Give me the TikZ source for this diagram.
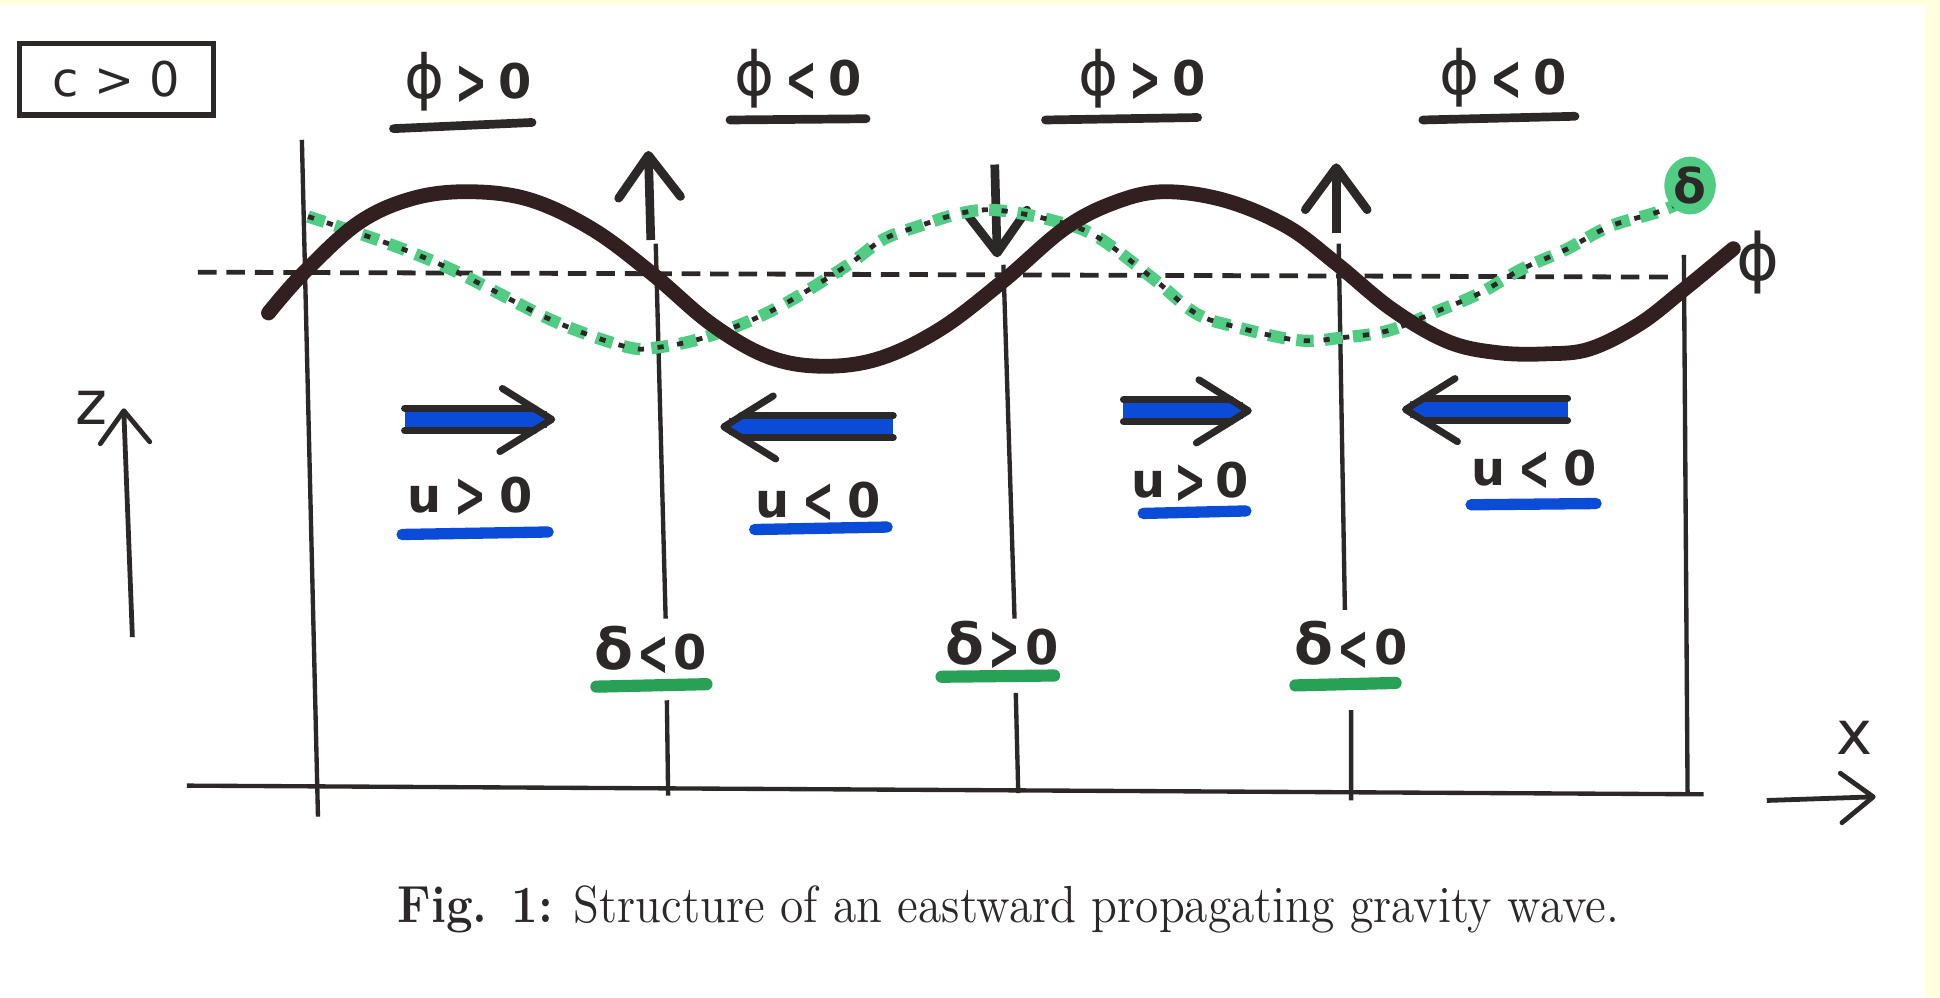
\documentclass[tikz,border=0pt]{standalone}
\usepackage{fontspec}
\newfontfamily\handfont{DejaVu Sans}
\usetikzlibrary{arrows.meta,shapes.geometric}

\definecolor{ink}{RGB}{45,40,40}
\definecolor{wavebrown}{RGB}{50,32,32}
\definecolor{ublue}{RGB}{10,75,215}
\definecolor{dgreen}{RGB}{40,160,85}
\definecolor{lgreen}{RGB}{80,205,130}
\definecolor{paper}{RGB}{255,255,224}

\newcommand{\bphi}{{\mdseries\fontsize{14}{14}\selectfont ϕ}}
\newcommand{\bdelta}{{\fontsize{13}{13}\selectfont δ}}
\newcommand{\hgt}{\raisebox{-0.12em}{\scalebox{0.8}[1.35]{>}}}
\newcommand{\hlt}{\raisebox{-0.12em}{\scalebox{0.8}[1.35]{<}}}
% wind arrow: tip x, y, shaft length, direction (1 east, -1 west)
\newcommand{\windarrow}[4]{%
  \begin{scope}[shift={(#1,#2)},xscale=#4]
    \fill[ublue] (-#3,-7) rectangle (-4,7);
    \draw[ink,line width=1.6pt,line cap=round] (-#3,-9) -- (-14,-9) (-#3,9) -- (-14,9);
    \draw[ink,line width=1.6pt,line cap=round,line join=round] (-40,-25) -- (0,0) -- (-42,26);
  \end{scope}}

\begin{document}
\begin{tikzpicture}[
  x=0.1mm,y=-0.1mm,
  >={Straight Barb[round,length=3.4mm,width=5mm]},
  gridline/.style={draw=ink,line width=1pt},
  zeroline/.style={draw=ink,line width=1.1pt,dash pattern=on 1.5mm off 0.8mm},
  wave/.style={draw=wavebrown,line width=3.4pt,line cap=round},
  deltadash/.style={draw=lgreen,line width=2.8pt,dash pattern=on 1.4mm off 0.9mm},
  deltadot/.style={draw=ink,line width=1.1pt,dash pattern=on 0.5mm off 1.1mm},
  vertarrow/.style={draw=ink,line width=2pt,->},
  axisarrow/.style={draw=ink,line width=1.1pt,->,>={Straight Barb[round,length=2.6mm,width=4mm]}},
  hand/.style={font=\handfont\bfseries\fontsize{11}{13}\selectfont,text=ink,inner sep=1pt},
  philine/.style={draw=ink,line width=2pt,line cap=round},
  uline/.style={draw=ublue,line width=2.6pt,line cap=round},
  dline/.style={draw=dgreen,line width=2.8pt,line cap=round}
]
  \fill[paper] (0,0) rectangle (1568,806);
  \fill[white] (0,5) rectangle (1557,806);
  \useasboundingbox (0,0) rectangle (1568,806);

  \node[draw=ink,line width=1.2pt,minimum width=15.7mm,minimum height=5.8mm,
    font=\handfont\fontsize{11}{13}\selectfont,text=ink] (cbox) at (94,64) {c > 0};

  \node[hand] (phiA) at (378,66) {\bphi\kern2.5pt\hgt\kern2.5pt0};
  \node[hand] (phiB) at (645,64) {\bphi\kern2.5pt\hlt\kern2.5pt0};
  \node[hand] (phiC) at (923,64) {\bphi\kern2.5pt\hgt\kern2.5pt0};
  \node[hand] (phiD) at (1215,63) {\bphi\kern2.5pt\hlt\kern2.5pt0};
  \draw[philine] (318,104) -- (430,99);
  \draw[philine] (590,97) -- (700,96);
  \draw[philine] (845,97) -- (968,95);
  \draw[philine] (1150,97) -- (1273,94);

  \draw[gridline] (244,113) -- (257,660);
  \draw[gridline] (530,197) -- (538,500) (539,566) -- (540,643);
  \draw[gridline] (811,214) -- (820,500) (821,560) -- (823,641);
  \draw[gridline] (1082,197) -- (1087,493) (1092,574) -- (1092,647);
  \draw[gridline] (1361,206) -- (1364,643);
  \draw[gridline] (151,635) -- (1377,642);

  \draw[vertarrow] (526,194) -- (524,122);
  \draw[vertarrow] (804,133) -- (806,208);
  \draw[vertarrow] (1080,188) -- (1080,132);

  \draw[zeroline] (160,220) -- (1354,224);

  \draw[deltadash] plot[smooth,tension=0.6] coordinates {(249,175) (314,197) (361,216)
    (397,234) (451,261) (505,280) (530,281) (572,272) (626,250) (684,215) (713,194)
    (742,183) (778,172) (807,170) (850,178) (886,191) (933,226) (966,253) (998,264)
    (1049,275) (1084,273) (1123,267) (1163,251) (1196,237) (1229,218) (1265,202)
    (1301,183) (1338,172) (1358,164)};
  \draw[deltadot] plot[smooth,tension=0.6] coordinates {(249,175) (314,197) (361,216)
    (397,234) (451,261) (505,280) (530,281) (572,272) (626,250) (684,215) (713,194)
    (742,183) (778,172) (807,170) (850,178) (886,191) (933,226) (966,253) (998,264)
    (1049,275) (1084,273) (1123,267) (1163,251) (1196,237) (1229,218) (1265,202)
    (1301,183) (1338,172) (1358,164)};
  \node[hand,fill=lgreen,ellipse,inner sep=0.4pt] (deltaend) at (1366,150) {δ};

  \draw[wave] plot[smooth,tension=0.6] coordinates {(217,253) (245,221) (290,180)
    (335,160) (382,155) (430,162) (480,186) (528,222) (575,262) (620,288) (663,296)
    (710,290) (760,266) (811,227) (860,185) (900,164) (940,155) (990,162) (1040,183)
    (1080,213) (1125,250) (1170,276) (1210,285) (1250,286) (1285,282) (1325,262)
    (1361,234) (1401,201)};
  \node[hand,font=\handfont\fontsize{15}{15}\selectfont] (phiend) at (1421,212) {ϕ};

  \windarrow{446}{339}{119}{1}
  \windarrow{585}{345}{137}{-1}
  \windarrow{1009}{332}{101}{1}
  \windarrow{1136}{331}{131}{-1}

  \node[hand] (uA) at (380,402) {u\kern3pt\hgt\kern3pt0};
  \node[hand] (uB) at (661,406) {u\kern3pt\hlt\kern3pt0};
  \node[hand] (uC) at (962,390) {u\kern2pt\hgt\kern2pt0};
  \node[hand] (uD) at (1240,380) {u\kern3pt\hlt\kern3pt0};
  \draw[uline] (325,432) -- (443,430);
  \draw[uline] (610,428) -- (717,426);
  \draw[uline] (924,415) -- (1007,413);
  \draw[uline] (1189,408) -- (1290,407);

  \node[hand] (dA) at (526,526) {\bdelta\kern1pt\hlt\kern1pt0};
  \node[hand] (dB) at (810,522) {\bdelta\kern1pt\hgt\kern1pt0};
  \node[hand] (dC) at (1092,522) {\bdelta\kern1pt\hlt\kern1pt0};
  \draw[dline] (482,555) -- (571,553);
  \draw[dline] (761,547) -- (852,546);
  \draw[dline] (1047,554) -- (1128,552);

  \coordinate (zfoot) at (107,515);
  \coordinate (ztip) at (100,330);
  \draw[axisarrow] (zfoot) -- (ztip);
  \node[hand,font=\handfont\fontsize{14}{14}\selectfont] (zlab) at (74,330) {z};

  \coordinate (xfoot) at (1428,647);
  \coordinate (xtip) at (1516,644);
  \draw[axisarrow] (xfoot) -- (xtip);
  \node[hand,font=\handfont\fontsize{14}{14}\selectfont] (xlab) at (1499,596) {x};

  \node[font=\fontsize{12}{14}\selectfont,text=ink,anchor=base] (caption) at (815,746)
    {\scalebox{0.91}[1]{\textbf{Fig. 1:} Structure of an eastward propagating gravity wave.}};
\end{tikzpicture}
\end{document}
